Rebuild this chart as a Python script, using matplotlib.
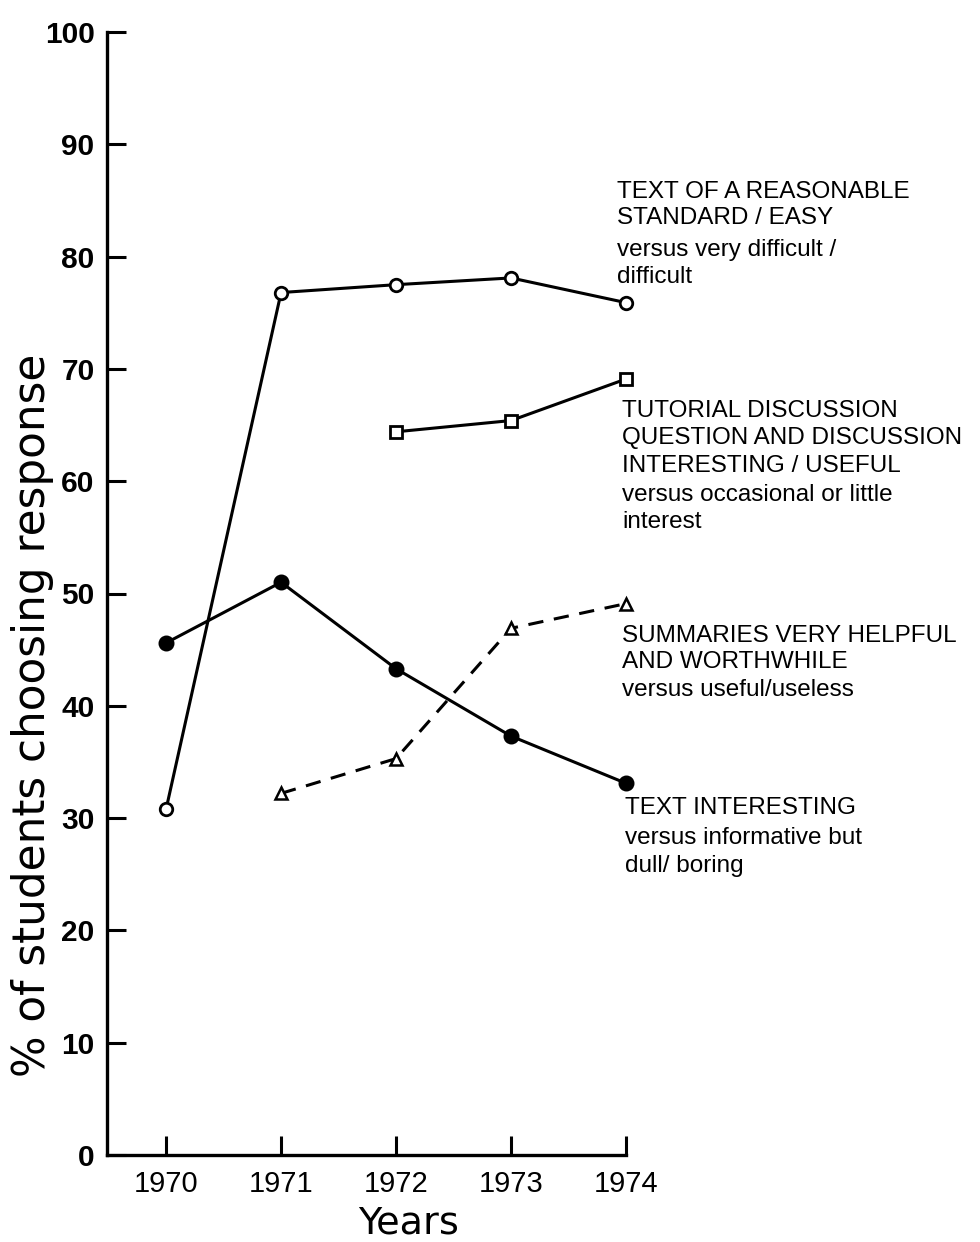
import matplotlib
matplotlib.use("Agg")
import matplotlib.pyplot as plt

years = [1970, 1971, 1972, 1973, 1974]
reasonable_years = [1970, 1971, 1972, 1973, 1974]
reasonable_vals = [30.8, 76.8, 77.5, 78.1, 75.9]
tutorial_years = [1972, 1973, 1974]
tutorial_vals = [64.4, 65.4, 69.1]
summaries_years = [1971, 1972, 1973, 1974]
summaries_vals = [32.2, 35.3, 46.9, 49.1]
interesting_years = [1970, 1971, 1972, 1973, 1974]
interesting_vals = [45.6, 51.0, 43.3, 37.3, 33.1]
y_ticks = [0, 10, 20, 30, 40, 50, 60, 70, 80, 90, 100]

W, H = 980, 1242
fig = plt.figure(figsize=(W / 100, H / 100), dpi=100)
ax = fig.add_axes([107 / W, 1 - 1155 / H, (626 - 107) / W, (1155 - 32) / H])

lw = 2.2
ax.plot(reasonable_years, reasonable_vals, color="black", lw=lw, marker="o",
        markersize=9, markerfacecolor="white", markeredgewidth=2, clip_on=False, zorder=3)
ax.plot(tutorial_years, tutorial_vals, color="black", lw=lw, marker="s",
        markersize=9, markerfacecolor="white", markeredgewidth=2, clip_on=False, zorder=3)
ax.plot(summaries_years, summaries_vals, color="black", lw=lw, ls=(0, (5, 3.5)), marker="^",
        markersize=8, markerfacecolor="white", markeredgewidth=1.8, clip_on=False, zorder=3)
ax.plot(interesting_years, interesting_vals, color="black", lw=lw, marker="o",
        markersize=10, markerfacecolor="black", markeredgewidth=1.5, clip_on=False, zorder=3)

ax.set_xlim(1969.486, 1974.0)
ax.set_ylim(0, 100)
ax.set_xticks(years)
ax.set_xticklabels([str(y) for y in years])
ax.set_yticks(y_ticks)
ax.set_yticklabels([str(v) for v in y_ticks])

for s in ["top", "right"]:
    ax.spines[s].set_visible(False)
for s in ["left", "bottom"]:
    ax.spines[s].set_linewidth(2.4)

ax.tick_params(axis="both", direction="in", length=14, width=2.2, colors="black")
ax.tick_params(axis="x", pad=11)
ax.tick_params(axis="y", pad=9)
for lab in ax.get_xticklabels():
    lab.set_fontsize(21)
    lab.set_family("Liberation Sans")
for lab in ax.get_yticklabels():
    lab.set_fontsize(21.5)
    lab.set_fontweight("bold")
    lab.set_family("Liberation Sans")

fig.text(33 / W, 1 - 715 / H, "% of students choosing response", fontsize=31.5,
         family="DejaVu Sans", rotation=90, ha="center", va="center")
fig.text(409 / W, 1 - 1233 / H, "Years", fontsize=27.5, family="DejaVu Sans",
         ha="center", va="baseline")

fs = 17.5
def put(x, y, s):
    fig.text(x / W, 1 - y / H, s, fontsize=fs, family="Liberation Sans",
             ha="left", va="center")

put(617, 192, "TEXT OF A REASONABLE")
put(617, 218, "STANDARD / EASY")
put(617, 250, "versus very difficult /")
put(617, 277, "difficult")

put(622, 411, "TUTORIAL DISCUSSION")
put(622, 438, "QUESTION AND DISCUSSION")
put(622, 466, "INTERESTING / USEFUL")
put(622, 495, "versus occasional or little")
put(622, 522, "interest")

put(622, 636, "SUMMARIES VERY HELPFUL")
put(622, 662, "AND WORTHWHILE")
put(622, 690, "versus useful/useless")

put(625, 808, "TEXT INTERESTING")
put(625, 838, "versus informative but")
put(625, 866, "dull/ boring")

fig.savefig("out.png", dpi=100, facecolor="white")
